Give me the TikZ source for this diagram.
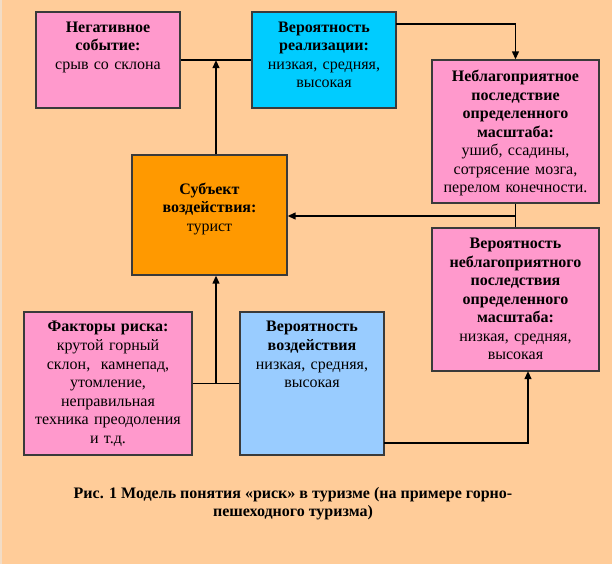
\documentclass[tikz,border=0pt]{standalone}
\usepackage{fontspec}
\setmainfont{Liberation Serif}
\usetikzlibrary{arrows.meta}
\definecolor{bgc}{HTML}{FFCC99}
\definecolor{edgec}{HTML}{F2DCC6}
\definecolor{pinkc}{HTML}{FF99CC}
\definecolor{cyanc}{HTML}{00CCFF}
\definecolor{orangec}{HTML}{FF9900}
\definecolor{lblue}{HTML}{99CCFF}
\definecolor{bordc}{HTML}{3A3A3A}
\tikzset{
  box/.style={draw=bordc, line width=0.8pt, rectangle, inner sep=0pt},
  btxt/.style={anchor=north, inner sep=0pt, align=center, font=\rmfamily\fontsize{12}{13.9}\selectfont},
  conn/.style={line width=1.3pt, black},
  arr/.style={conn, -{Triangle[length=6pt,width=5pt]}},
  capt/.style={align=center, inner sep=0pt, font=\rmfamily\fontsize{12}{13.5}\selectfont\bfseries}
}
\begin{document}
\begin{tikzpicture}[x=0.75pt,y=-0.75pt]
\fill[bgc] (0,0) rectangle (612,564);
\fill[edgec] (0,0) rectangle (2,564);
\useasboundingbox (0,0) rectangle (612,564);

% boxes
\node[box, fill=pinkc, minimum width=108pt, minimum height=72pt] (neg) at (108,60) {};
\node[box, fill=cyanc, minimum width=108pt, minimum height=72pt] (real) at (324,60) {};
\node[box, fill=pinkc, minimum width=125.25pt, minimum height=107.25pt] (cons) at (515.5,131.5) {};
\node[box, fill=pinkc, minimum width=125.25pt, minimum height=107.25pt] (pcons) at (515.5,299.5) {};
\node[box, fill=orangec, minimum width=116.25pt, minimum height=90pt] (subj) at (209.5,215) {};
\node[box, fill=pinkc, minimum width=126pt, minimum height=107.25pt] (fact) at (108,383.5) {};
\node[box, fill=lblue, minimum width=108pt, minimum height=107.25pt] (pimp) at (312,383.5) {};

% texts
\node[btxt, text width=102pt, yshift=-7.5pt] (negt) at (neg.north) {\textbf{Негативное}\\\textbf{событие:}\\срыв со склона};
\node[btxt, text width=102pt, yshift=-7.5pt] (realt) at (real.north) {\textbf{Вероятность}\\\textbf{реализации:}\\низкая, средняя,\\высокая};
\node[btxt, text width=121pt, yshift=-7.8pt] (const) at (cons.north) {\textbf{Неблагоприятное}\\\textbf{последствие}\\\textbf{определенного}\\\textbf{масштаба:}\\ушиб, ссадины,\\сотрясение мозга,\\перелом конечности.};
\node[btxt, text width=121pt, yshift=-7.8pt] (pconst) at (pcons.north) {\textbf{Вероятность}\\\textbf{неблагоприятного}\\\textbf{последствия}\\\textbf{определенного}\\\textbf{масштаба:}\\низкая, средняя,\\высокая};
\node[btxt, text width=110pt, yshift=-21pt] (subjt) at (subj.north) {\textbf{Субъект}\\\textbf{воздействия:}\\турист};
\node[btxt, text width=122pt, yshift=-7.3pt] (factt) at (fact.north) {\textbf{Факторы риска:}\\крутой горный\\склон,~ камнепад,\\утомление,\\неправильная\\техника преодоления\\и т.д.};
\node[btxt, text width=102pt, yshift=-7.3pt] (pimpt) at (pimp.north) {\textbf{Вероятность}\\\textbf{воздействия}\\низкая, средняя,\\высокая};

% caption
\node[capt] (cap) at (293,503.5) {Рис. 1 Модель понятия «риск» в туризме (на примере горно-\\пешеходного туризма)};

% junction coordinates
\coordinate (j1) at (216,60);
\coordinate (r1) at (396,24);
\coordinate (j2) at (515.5,216);
\coordinate (j3) at (216,383.5);
\coordinate (p1) at (384,443);
\coordinate (p2) at (528,371);

% connectors
\draw[conn] (neg.east) -- (real.west);
\draw[arr] (j1 |- subj.north) -- (j1);
\draw[arr] (r1) -| (cons.north);
\draw[conn] (cons.south) -- (pcons.north);
\draw[arr] (j2) -- (j2 -| subj.east);
\draw[conn] (fact.east) -- (pimp.west);
\draw[arr] (j3) -- (j3 |- subj.south);
\draw[arr] (p1) -| (p2);
\end{tikzpicture}
\end{document}
